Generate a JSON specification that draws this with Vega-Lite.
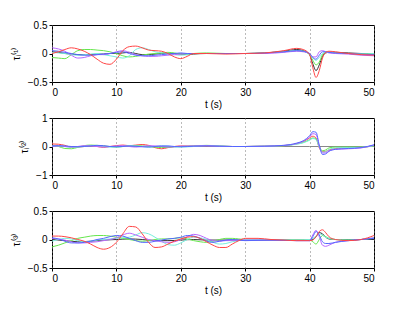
{
"$schema":"https://vega.github.io/schema/vega-lite/v6.json",
"padding":{"left":10,"top":19,"right":5,"bottom":5},
"background":"white",
"datasets":{"d":[
{"p":1,"s":"k","t":0,"v":0.03},{"p":1,"s":"k","t":1,"v":0.02},{"p":1,"s":"k","t":2,"v":0},{"p":1,"s":"k","t":3,"v":-0.01},{"p":1,"s":"k","t":4,"v":-0.02},{"p":1,"s":"k","t":5,"v":-0.02},{"p":1,"s":"k","t":6,"v":-0.02},{"p":1,"s":"k","t":7,"v":-0.01},{"p":1,"s":"k","t":8,"v":-0.01},{"p":1,"s":"k","t":9,"v":0},{"p":1,"s":"k","t":10,"v":0},{"p":1,"s":"k","t":11,"v":0.01},{"p":1,"s":"k","t":12,"v":0.02},{"p":1,"s":"k","t":13,"v":0},{"p":1,"s":"k","t":14,"v":-0.02},{"p":1,"s":"k","t":15,"v":-0.02},{"p":1,"s":"k","t":16,"v":-0.01},{"p":1,"s":"k","t":17,"v":0},{"p":1,"s":"k","t":18,"v":0},{"p":1,"s":"k","t":19,"v":0},{"p":1,"s":"k","t":20,"v":-0.01},{"p":1,"s":"k","t":21,"v":-0.02},{"p":1,"s":"k","t":22,"v":-0.01},{"p":1,"s":"k","t":24,"v":0},{"p":1,"s":"k","t":27,"v":0},{"p":1,"s":"k","t":30,"v":0},{"p":1,"s":"k","t":33,"v":0.01},{"p":1,"s":"k","t":36,"v":0.04},{"p":1,"s":"k","t":38,"v":0.07},{"p":1,"s":"k","t":39,"v":0.05},{"p":1,"s":"k","t":40,"v":-0.02},{"p":1,"s":"k","t":40.5,"v":-0.18},{"p":1,"s":"k","t":41,"v":-0.3},{"p":1,"s":"k","t":41.5,"v":-0.2},{"p":1,"s":"k","t":42,"v":-0.05},{"p":1,"s":"k","t":42.5,"v":0.01},{"p":1,"s":"k","t":43,"v":0.02},{"p":1,"s":"k","t":44,"v":0.02},{"p":1,"s":"k","t":46,"v":0.01},{"p":1,"s":"k","t":48,"v":0},{"p":1,"s":"k","t":50,"v":-0.01},
{"p":1,"s":"g","t":0,"v":-0.07},{"p":1,"s":"g","t":1,"v":-0.08},{"p":1,"s":"g","t":2,"v":-0.09},{"p":1,"s":"g","t":3,"v":-0.02},{"p":1,"s":"g","t":4,"v":0.05},{"p":1,"s":"g","t":5,"v":0.07},{"p":1,"s":"g","t":6,"v":0.07},{"p":1,"s":"g","t":7,"v":0.06},{"p":1,"s":"g","t":8,"v":0.05},{"p":1,"s":"g","t":9,"v":0.03},{"p":1,"s":"g","t":10,"v":0},{"p":1,"s":"g","t":11,"v":-0.04},{"p":1,"s":"g","t":12,"v":-0.06},{"p":1,"s":"g","t":13,"v":-0.05},{"p":1,"s":"g","t":14,"v":-0.03},{"p":1,"s":"g","t":15,"v":-0.01},{"p":1,"s":"g","t":16,"v":0},{"p":1,"s":"g","t":17,"v":0.01},{"p":1,"s":"g","t":18,"v":0.02},{"p":1,"s":"g","t":19,"v":0.01},{"p":1,"s":"g","t":20,"v":-0.01},{"p":1,"s":"g","t":21,"v":-0.01},{"p":1,"s":"g","t":22,"v":0},{"p":1,"s":"g","t":24,"v":0.01},{"p":1,"s":"g","t":27,"v":0},{"p":1,"s":"g","t":30,"v":0},{"p":1,"s":"g","t":33,"v":0.01},{"p":1,"s":"g","t":36,"v":0.03},{"p":1,"s":"g","t":38,"v":0.05},{"p":1,"s":"g","t":39,"v":0.04},{"p":1,"s":"g","t":40,"v":-0.02},{"p":1,"s":"g","t":40.5,"v":-0.12},{"p":1,"s":"g","t":41,"v":-0.2},{"p":1,"s":"g","t":41.5,"v":-0.15},{"p":1,"s":"g","t":42,"v":-0.02},{"p":1,"s":"g","t":42.5,"v":0.02},{"p":1,"s":"g","t":43,"v":0.02},{"p":1,"s":"g","t":44,"v":0.01},{"p":1,"s":"g","t":46,"v":0},{"p":1,"s":"g","t":48,"v":0},{"p":1,"s":"g","t":50,"v":0},
{"p":1,"s":"c","t":0,"v":0.02},{"p":1,"s":"c","t":1,"v":0.01},{"p":1,"s":"c","t":2,"v":0},{"p":1,"s":"c","t":3,"v":-0.02},{"p":1,"s":"c","t":4,"v":-0.03},{"p":1,"s":"c","t":5,"v":-0.02},{"p":1,"s":"c","t":6,"v":-0.01},{"p":1,"s":"c","t":7,"v":0},{"p":1,"s":"c","t":8,"v":-0.02},{"p":1,"s":"c","t":9,"v":-0.04},{"p":1,"s":"c","t":10,"v":-0.06},{"p":1,"s":"c","t":11,"v":-0.08},{"p":1,"s":"c","t":12,"v":-0.04},{"p":1,"s":"c","t":13,"v":0.07},{"p":1,"s":"c","t":14,"v":0.1},{"p":1,"s":"c","t":15,"v":0.07},{"p":1,"s":"c","t":16,"v":0.03},{"p":1,"s":"c","t":17,"v":0.01},{"p":1,"s":"c","t":18,"v":0},{"p":1,"s":"c","t":19,"v":-0.02},{"p":1,"s":"c","t":20,"v":-0.03},{"p":1,"s":"c","t":21,"v":-0.02},{"p":1,"s":"c","t":22,"v":0},{"p":1,"s":"c","t":24,"v":0},{"p":1,"s":"c","t":27,"v":0},{"p":1,"s":"c","t":30,"v":0},{"p":1,"s":"c","t":33,"v":0.01},{"p":1,"s":"c","t":36,"v":0.03},{"p":1,"s":"c","t":38,"v":0.05},{"p":1,"s":"c","t":39,"v":0.04},{"p":1,"s":"c","t":40,"v":-0.02},{"p":1,"s":"c","t":40.5,"v":-0.08},{"p":1,"s":"c","t":41,"v":-0.12},{"p":1,"s":"c","t":41.5,"v":-0.07},{"p":1,"s":"c","t":42,"v":0},{"p":1,"s":"c","t":42.5,"v":0.02},{"p":1,"s":"c","t":43,"v":0.02},{"p":1,"s":"c","t":44,"v":0.01},{"p":1,"s":"c","t":46,"v":0},{"p":1,"s":"c","t":48,"v":-0.01},{"p":1,"s":"c","t":50,"v":0},
{"p":1,"s":"m","t":0,"v":0.1},{"p":1,"s":"m","t":1,"v":0.08},{"p":1,"s":"m","t":2,"v":0.04},{"p":1,"s":"m","t":3,"v":-0.03},{"p":1,"s":"m","t":4,"v":-0.08},{"p":1,"s":"m","t":5,"v":-0.07},{"p":1,"s":"m","t":6,"v":-0.04},{"p":1,"s":"m","t":7,"v":-0.02},{"p":1,"s":"m","t":8,"v":-0.02},{"p":1,"s":"m","t":9,"v":0},{"p":1,"s":"m","t":10,"v":0.03},{"p":1,"s":"m","t":11,"v":0.05},{"p":1,"s":"m","t":12,"v":0.02},{"p":1,"s":"m","t":13,"v":-0.02},{"p":1,"s":"m","t":14,"v":-0.04},{"p":1,"s":"m","t":15,"v":-0.05},{"p":1,"s":"m","t":16,"v":-0.05},{"p":1,"s":"m","t":17,"v":-0.04},{"p":1,"s":"m","t":18,"v":-0.03},{"p":1,"s":"m","t":19,"v":-0.02},{"p":1,"s":"m","t":20,"v":-0.01},{"p":1,"s":"m","t":21,"v":0},{"p":1,"s":"m","t":22,"v":0},{"p":1,"s":"m","t":24,"v":0},{"p":1,"s":"m","t":27,"v":0},{"p":1,"s":"m","t":30,"v":0},{"p":1,"s":"m","t":33,"v":0},{"p":1,"s":"m","t":36,"v":0.02},{"p":1,"s":"m","t":38,"v":0.04},{"p":1,"s":"m","t":39,"v":0.03},{"p":1,"s":"m","t":40,"v":0},{"p":1,"s":"m","t":40.5,"v":-0.06},{"p":1,"s":"m","t":41,"v":-0.06},{"p":1,"s":"m","t":41.5,"v":0.03},{"p":1,"s":"m","t":42,"v":0.05},{"p":1,"s":"m","t":42.5,"v":0.03},{"p":1,"s":"m","t":43,"v":0.01},{"p":1,"s":"m","t":44,"v":0},{"p":1,"s":"m","t":46,"v":-0.01},{"p":1,"s":"m","t":48,"v":-0.03},{"p":1,"s":"m","t":50,"v":-0.04},
{"p":1,"s":"b","t":0,"v":0.05},{"p":1,"s":"b","t":1,"v":0.04},{"p":1,"s":"b","t":2,"v":0.02},{"p":1,"s":"b","t":3,"v":0},{"p":1,"s":"b","t":4,"v":-0.02},{"p":1,"s":"b","t":5,"v":-0.03},{"p":1,"s":"b","t":6,"v":-0.03},{"p":1,"s":"b","t":7,"v":-0.02},{"p":1,"s":"b","t":8,"v":-0.01},{"p":1,"s":"b","t":9,"v":0},{"p":1,"s":"b","t":10,"v":0.02},{"p":1,"s":"b","t":11,"v":0.03},{"p":1,"s":"b","t":12,"v":0},{"p":1,"s":"b","t":13,"v":-0.03},{"p":1,"s":"b","t":14,"v":-0.04},{"p":1,"s":"b","t":15,"v":-0.04},{"p":1,"s":"b","t":16,"v":-0.03},{"p":1,"s":"b","t":17,"v":-0.02},{"p":1,"s":"b","t":18,"v":-0.01},{"p":1,"s":"b","t":19,"v":0},{"p":1,"s":"b","t":20,"v":0.01},{"p":1,"s":"b","t":21,"v":0},{"p":1,"s":"b","t":22,"v":0},{"p":1,"s":"b","t":24,"v":0},{"p":1,"s":"b","t":27,"v":0},{"p":1,"s":"b","t":30,"v":0},{"p":1,"s":"b","t":33,"v":0.01},{"p":1,"s":"b","t":36,"v":0.03},{"p":1,"s":"b","t":38,"v":0.05},{"p":1,"s":"b","t":39,"v":0.04},{"p":1,"s":"b","t":40,"v":0},{"p":1,"s":"b","t":40.5,"v":-0.07},{"p":1,"s":"b","t":41,"v":-0.1},{"p":1,"s":"b","t":41.5,"v":-0.03},{"p":1,"s":"b","t":42,"v":0.03},{"p":1,"s":"b","t":42.5,"v":0.03},{"p":1,"s":"b","t":43,"v":0.02},{"p":1,"s":"b","t":44,"v":0.01},{"p":1,"s":"b","t":46,"v":0},{"p":1,"s":"b","t":48,"v":-0.01},{"p":1,"s":"b","t":50,"v":-0.02},
{"p":1,"s":"r","t":0,"v":0},{"p":1,"s":"r","t":1,"v":0.03},{"p":1,"s":"r","t":2,"v":0.07},{"p":1,"s":"r","t":3,"v":0.1},{"p":1,"s":"r","t":4,"v":0.08},{"p":1,"s":"r","t":5,"v":0.04},{"p":1,"s":"r","t":6,"v":-0.02},{"p":1,"s":"r","t":7,"v":-0.1},{"p":1,"s":"r","t":8,"v":-0.17},{"p":1,"s":"r","t":9,"v":-0.19},{"p":1,"s":"r","t":10,"v":-0.1},{"p":1,"s":"r","t":11,"v":0.05},{"p":1,"s":"r","t":12,"v":0.12},{"p":1,"s":"r","t":13,"v":0.13},{"p":1,"s":"r","t":14,"v":0.1},{"p":1,"s":"r","t":15,"v":0.06},{"p":1,"s":"r","t":16,"v":0.05},{"p":1,"s":"r","t":17,"v":0.04},{"p":1,"s":"r","t":18,"v":0},{"p":1,"s":"r","t":19,"v":-0.06},{"p":1,"s":"r","t":20,"v":-0.09},{"p":1,"s":"r","t":21,"v":-0.05},{"p":1,"s":"r","t":22,"v":0},{"p":1,"s":"r","t":24,"v":0},{"p":1,"s":"r","t":27,"v":-0.01},{"p":1,"s":"r","t":30,"v":0},{"p":1,"s":"r","t":33,"v":0.01},{"p":1,"s":"r","t":36,"v":0.05},{"p":1,"s":"r","t":38,"v":0.09},{"p":1,"s":"r","t":39,"v":0.07},{"p":1,"s":"r","t":40,"v":-0.02},{"p":1,"s":"r","t":40.5,"v":-0.25},{"p":1,"s":"r","t":41,"v":-0.42},{"p":1,"s":"r","t":41.5,"v":-0.3},{"p":1,"s":"r","t":42,"v":-0.08},{"p":1,"s":"r","t":42.5,"v":0.02},{"p":1,"s":"r","t":43,"v":0.04},{"p":1,"s":"r","t":44,"v":0.03},{"p":1,"s":"r","t":46,"v":0},{"p":1,"s":"r","t":48,"v":-0.02},{"p":1,"s":"r","t":50,"v":-0.03},
{"p":2,"s":"k","t":0,"v":0},{"p":2,"s":"k","t":10,"v":0},{"p":2,"s":"k","t":20,"v":0},{"p":2,"s":"k","t":30,"v":0},{"p":2,"s":"k","t":40,"v":0},{"p":2,"s":"k","t":50,"v":0},
{"p":2,"s":"r","t":0,"v":0.09},{"p":2,"s":"r","t":1,"v":0.08},{"p":2,"s":"r","t":2,"v":0.04},{"p":2,"s":"r","t":3,"v":-0.02},{"p":2,"s":"r","t":4,"v":-0.02},{"p":2,"s":"r","t":5,"v":0},{"p":2,"s":"r","t":6,"v":0.02},{"p":2,"s":"r","t":7,"v":0},{"p":2,"s":"r","t":8,"v":-0.03},{"p":2,"s":"r","t":9,"v":0},{"p":2,"s":"r","t":10,"v":0.03},{"p":2,"s":"r","t":11,"v":0.05},{"p":2,"s":"r","t":12,"v":0.03},{"p":2,"s":"r","t":13,"v":0.05},{"p":2,"s":"r","t":14,"v":0.07},{"p":2,"s":"r","t":15,"v":0.04},{"p":2,"s":"r","t":16,"v":-0.04},{"p":2,"s":"r","t":17,"v":-0.08},{"p":2,"s":"r","t":18,"v":-0.04},{"p":2,"s":"r","t":19,"v":0},{"p":2,"s":"r","t":20,"v":0.02},{"p":2,"s":"r","t":22,"v":0.01},{"p":2,"s":"r","t":24,"v":0.02},{"p":2,"s":"r","t":26,"v":0.01},{"p":2,"s":"r","t":28,"v":0},{"p":2,"s":"r","t":30,"v":0},{"p":2,"s":"r","t":33,"v":0.01},{"p":2,"s":"r","t":36,"v":0.03},{"p":2,"s":"r","t":38,"v":0.1},{"p":2,"s":"r","t":39,"v":0.17},{"p":2,"s":"r","t":40,"v":0.3},{"p":2,"s":"r","t":40.5,"v":0.36},{"p":2,"s":"r","t":41,"v":0.3},{"p":2,"s":"r","t":41.5,"v":-0.05},{"p":2,"s":"r","t":42,"v":-0.17},{"p":2,"s":"r","t":42.5,"v":-0.17},{"p":2,"s":"r","t":43,"v":-0.12},{"p":2,"s":"r","t":44,"v":-0.07},{"p":2,"s":"r","t":45,"v":-0.05},{"p":2,"s":"r","t":46,"v":-0.04},{"p":2,"s":"r","t":48,"v":-0.03},{"p":2,"s":"r","t":50,"v":0.03},
{"p":2,"s":"g","t":0,"v":0.03},{"p":2,"s":"g","t":1,"v":0},{"p":2,"s":"g","t":2,"v":-0.07},{"p":2,"s":"g","t":3,"v":-0.08},{"p":2,"s":"g","t":4,"v":-0.03},{"p":2,"s":"g","t":5,"v":0.03},{"p":2,"s":"g","t":6,"v":0.05},{"p":2,"s":"g","t":7,"v":0.04},{"p":2,"s":"g","t":8,"v":0.02},{"p":2,"s":"g","t":9,"v":0},{"p":2,"s":"g","t":10,"v":-0.02},{"p":2,"s":"g","t":11,"v":0},{"p":2,"s":"g","t":12,"v":0.02},{"p":2,"s":"g","t":13,"v":0.03},{"p":2,"s":"g","t":14,"v":0.02},{"p":2,"s":"g","t":15,"v":0},{"p":2,"s":"g","t":16,"v":-0.02},{"p":2,"s":"g","t":17,"v":-0.04},{"p":2,"s":"g","t":18,"v":-0.03},{"p":2,"s":"g","t":19,"v":-0.01},{"p":2,"s":"g","t":20,"v":0},{"p":2,"s":"g","t":22,"v":0.02},{"p":2,"s":"g","t":24,"v":0.04},{"p":2,"s":"g","t":26,"v":0.02},{"p":2,"s":"g","t":28,"v":0},{"p":2,"s":"g","t":30,"v":0},{"p":2,"s":"g","t":33,"v":0.01},{"p":2,"s":"g","t":36,"v":0.03},{"p":2,"s":"g","t":38,"v":0.09},{"p":2,"s":"g","t":39,"v":0.14},{"p":2,"s":"g","t":40,"v":0.24},{"p":2,"s":"g","t":40.5,"v":0.3},{"p":2,"s":"g","t":41,"v":0.27},{"p":2,"s":"g","t":41.5,"v":0},{"p":2,"s":"g","t":42,"v":-0.15},{"p":2,"s":"g","t":42.5,"v":-0.12},{"p":2,"s":"g","t":43,"v":-0.05},{"p":2,"s":"g","t":44,"v":-0.02},{"p":2,"s":"g","t":45,"v":-0.02},{"p":2,"s":"g","t":46,"v":-0.02},{"p":2,"s":"g","t":48,"v":-0.02},{"p":2,"s":"g","t":50,"v":0.02},
{"p":2,"s":"c","t":0,"v":0},{"p":2,"s":"c","t":1,"v":0.02},{"p":2,"s":"c","t":2,"v":0},{"p":2,"s":"c","t":3,"v":-0.03},{"p":2,"s":"c","t":4,"v":-0.02},{"p":2,"s":"c","t":5,"v":0},{"p":2,"s":"c","t":6,"v":0.03},{"p":2,"s":"c","t":7,"v":0.02},{"p":2,"s":"c","t":8,"v":0},{"p":2,"s":"c","t":9,"v":-0.02},{"p":2,"s":"c","t":10,"v":-0.02},{"p":2,"s":"c","t":11,"v":0},{"p":2,"s":"c","t":12,"v":0.03},{"p":2,"s":"c","t":13,"v":0.02},{"p":2,"s":"c","t":14,"v":0},{"p":2,"s":"c","t":15,"v":-0.02},{"p":2,"s":"c","t":16,"v":0},{"p":2,"s":"c","t":17,"v":0.02},{"p":2,"s":"c","t":18,"v":0.01},{"p":2,"s":"c","t":19,"v":-0.01},{"p":2,"s":"c","t":20,"v":-0.02},{"p":2,"s":"c","t":22,"v":0},{"p":2,"s":"c","t":24,"v":0.03},{"p":2,"s":"c","t":26,"v":0.02},{"p":2,"s":"c","t":28,"v":0},{"p":2,"s":"c","t":30,"v":0},{"p":2,"s":"c","t":33,"v":0.01},{"p":2,"s":"c","t":36,"v":0.03},{"p":2,"s":"c","t":38,"v":0.08},{"p":2,"s":"c","t":39,"v":0.13},{"p":2,"s":"c","t":40,"v":0.22},{"p":2,"s":"c","t":40.5,"v":0.28},{"p":2,"s":"c","t":41,"v":0.25},{"p":2,"s":"c","t":41.5,"v":-0.02},{"p":2,"s":"c","t":42,"v":-0.2},{"p":2,"s":"c","t":42.5,"v":-0.18},{"p":2,"s":"c","t":43,"v":-0.1},{"p":2,"s":"c","t":44,"v":-0.05},{"p":2,"s":"c","t":45,"v":-0.04},{"p":2,"s":"c","t":46,"v":-0.04},{"p":2,"s":"c","t":48,"v":-0.03},{"p":2,"s":"c","t":50,"v":0.03},
{"p":2,"s":"m","t":0,"v":0},{"p":2,"s":"m","t":1,"v":0.02},{"p":2,"s":"m","t":2,"v":0},{"p":2,"s":"m","t":3,"v":-0.02},{"p":2,"s":"m","t":4,"v":0},{"p":2,"s":"m","t":5,"v":0.03},{"p":2,"s":"m","t":6,"v":0.02},{"p":2,"s":"m","t":7,"v":0},{"p":2,"s":"m","t":8,"v":-0.02},{"p":2,"s":"m","t":9,"v":0},{"p":2,"s":"m","t":10,"v":0.02},{"p":2,"s":"m","t":11,"v":0.03},{"p":2,"s":"m","t":12,"v":0},{"p":2,"s":"m","t":13,"v":-0.02},{"p":2,"s":"m","t":14,"v":0},{"p":2,"s":"m","t":15,"v":0.03},{"p":2,"s":"m","t":16,"v":0.02},{"p":2,"s":"m","t":17,"v":0},{"p":2,"s":"m","t":18,"v":-0.02},{"p":2,"s":"m","t":19,"v":-0.01},{"p":2,"s":"m","t":20,"v":0.01},{"p":2,"s":"m","t":22,"v":0.02},{"p":2,"s":"m","t":24,"v":0.03},{"p":2,"s":"m","t":26,"v":0.01},{"p":2,"s":"m","t":28,"v":0},{"p":2,"s":"m","t":30,"v":0},{"p":2,"s":"m","t":33,"v":0.01},{"p":2,"s":"m","t":36,"v":0.04},{"p":2,"s":"m","t":38,"v":0.1},{"p":2,"s":"m","t":39,"v":0.18},{"p":2,"s":"m","t":40,"v":0.33},{"p":2,"s":"m","t":40.5,"v":0.45},{"p":2,"s":"m","t":41,"v":0.42},{"p":2,"s":"m","t":41.5,"v":0.02},{"p":2,"s":"m","t":42,"v":-0.23},{"p":2,"s":"m","t":42.5,"v":-0.22},{"p":2,"s":"m","t":43,"v":-0.15},{"p":2,"s":"m","t":44,"v":-0.1},{"p":2,"s":"m","t":45,"v":-0.09},{"p":2,"s":"m","t":46,"v":-0.08},{"p":2,"s":"m","t":48,"v":-0.05},{"p":2,"s":"m","t":50,"v":0.05},
{"p":2,"s":"b","t":0,"v":0.02},{"p":2,"s":"b","t":1,"v":0.03},{"p":2,"s":"b","t":2,"v":0.02},{"p":2,"s":"b","t":3,"v":0},{"p":2,"s":"b","t":4,"v":-0.01},{"p":2,"s":"b","t":5,"v":0},{"p":2,"s":"b","t":6,"v":0.02},{"p":2,"s":"b","t":7,"v":0.04},{"p":2,"s":"b","t":8,"v":0.03},{"p":2,"s":"b","t":9,"v":0},{"p":2,"s":"b","t":10,"v":-0.01},{"p":2,"s":"b","t":11,"v":0},{"p":2,"s":"b","t":12,"v":0.02},{"p":2,"s":"b","t":13,"v":0.01},{"p":2,"s":"b","t":14,"v":-0.01},{"p":2,"s":"b","t":15,"v":-0.02},{"p":2,"s":"b","t":16,"v":0},{"p":2,"s":"b","t":17,"v":0.02},{"p":2,"s":"b","t":18,"v":0.02},{"p":2,"s":"b","t":19,"v":0},{"p":2,"s":"b","t":20,"v":-0.01},{"p":2,"s":"b","t":22,"v":0.01},{"p":2,"s":"b","t":24,"v":0.02},{"p":2,"s":"b","t":26,"v":0.01},{"p":2,"s":"b","t":28,"v":0},{"p":2,"s":"b","t":30,"v":0},{"p":2,"s":"b","t":33,"v":0.01},{"p":2,"s":"b","t":36,"v":0.04},{"p":2,"s":"b","t":38,"v":0.12},{"p":2,"s":"b","t":39,"v":0.2},{"p":2,"s":"b","t":40,"v":0.38},{"p":2,"s":"b","t":40.5,"v":0.52},{"p":2,"s":"b","t":41,"v":0.5},{"p":2,"s":"b","t":41.5,"v":0.05},{"p":2,"s":"b","t":42,"v":-0.28},{"p":2,"s":"b","t":42.5,"v":-0.26},{"p":2,"s":"b","t":43,"v":-0.17},{"p":2,"s":"b","t":44,"v":-0.1},{"p":2,"s":"b","t":45,"v":-0.08},{"p":2,"s":"b","t":46,"v":-0.07},{"p":2,"s":"b","t":48,"v":-0.04},{"p":2,"s":"b","t":50,"v":0.06},
{"p":3,"s":"k","t":0,"v":0},{"p":3,"s":"k","t":2,"v":-0.02},{"p":3,"s":"k","t":4,"v":-0.04},{"p":3,"s":"k","t":6,"v":-0.03},{"p":3,"s":"k","t":8,"v":-0.01},{"p":3,"s":"k","t":10,"v":0},{"p":3,"s":"k","t":12,"v":0.01},{"p":3,"s":"k","t":14,"v":0},{"p":3,"s":"k","t":16,"v":-0.02},{"p":3,"s":"k","t":18,"v":-0.02},{"p":3,"s":"k","t":20,"v":-0.01},{"p":3,"s":"k","t":22,"v":0},{"p":3,"s":"k","t":24,"v":-0.01},{"p":3,"s":"k","t":26,"v":-0.01},{"p":3,"s":"k","t":28,"v":-0.01},{"p":3,"s":"k","t":30,"v":-0.01},{"p":3,"s":"k","t":34,"v":-0.01},{"p":3,"s":"k","t":38,"v":-0.01},{"p":3,"s":"k","t":40,"v":-0.01},{"p":3,"s":"k","t":40.5,"v":0},{"p":3,"s":"k","t":41,"v":0.05},{"p":3,"s":"k","t":41.5,"v":0.12},{"p":3,"s":"k","t":42,"v":0.1},{"p":3,"s":"k","t":42.5,"v":0.04},{"p":3,"s":"k","t":43,"v":0.01},{"p":3,"s":"k","t":44,"v":0},{"p":3,"s":"k","t":46,"v":0},{"p":3,"s":"k","t":48,"v":0},{"p":3,"s":"k","t":50,"v":0},
{"p":3,"s":"g","t":0,"v":-0.13},{"p":3,"s":"g","t":1,"v":-0.1},{"p":3,"s":"g","t":2,"v":-0.06},{"p":3,"s":"g","t":3,"v":-0.02},{"p":3,"s":"g","t":4,"v":0.02},{"p":3,"s":"g","t":5,"v":0.04},{"p":3,"s":"g","t":6,"v":0.06},{"p":3,"s":"g","t":7,"v":0.07},{"p":3,"s":"g","t":8,"v":0.07},{"p":3,"s":"g","t":9,"v":0.06},{"p":3,"s":"g","t":10,"v":0.04},{"p":3,"s":"g","t":11,"v":0.02},{"p":3,"s":"g","t":12,"v":0},{"p":3,"s":"g","t":13,"v":-0.02},{"p":3,"s":"g","t":14,"v":-0.03},{"p":3,"s":"g","t":15,"v":-0.02},{"p":3,"s":"g","t":16,"v":0},{"p":3,"s":"g","t":17,"v":0.01},{"p":3,"s":"g","t":18,"v":0.01},{"p":3,"s":"g","t":19,"v":0.02},{"p":3,"s":"g","t":20,"v":0.03},{"p":3,"s":"g","t":21,"v":0.01},{"p":3,"s":"g","t":22,"v":-0.02},{"p":3,"s":"g","t":23,"v":-0.04},{"p":3,"s":"g","t":24,"v":-0.05},{"p":3,"s":"g","t":25,"v":-0.03},{"p":3,"s":"g","t":26,"v":0},{"p":3,"s":"g","t":27,"v":0.02},{"p":3,"s":"g","t":28,"v":0.02},{"p":3,"s":"g","t":29,"v":0.01},{"p":3,"s":"g","t":30,"v":0},{"p":3,"s":"g","t":34,"v":0},{"p":3,"s":"g","t":38,"v":-0.01},{"p":3,"s":"g","t":40,"v":-0.01},{"p":3,"s":"g","t":40.5,"v":-0.04},{"p":3,"s":"g","t":41,"v":-0.08},{"p":3,"s":"g","t":41.5,"v":0},{"p":3,"s":"g","t":42,"v":0.07},{"p":3,"s":"g","t":42.5,"v":0.05},{"p":3,"s":"g","t":43,"v":0.02},{"p":3,"s":"g","t":44,"v":0},{"p":3,"s":"g","t":46,"v":-0.01},{"p":3,"s":"g","t":48,"v":0},{"p":3,"s":"g","t":50,"v":0.02},
{"p":3,"s":"c","t":0,"v":-0.03},{"p":3,"s":"c","t":1,"v":0},{"p":3,"s":"c","t":2,"v":0.02},{"p":3,"s":"c","t":3,"v":0.01},{"p":3,"s":"c","t":4,"v":-0.02},{"p":3,"s":"c","t":5,"v":-0.04},{"p":3,"s":"c","t":6,"v":-0.03},{"p":3,"s":"c","t":7,"v":-0.01},{"p":3,"s":"c","t":8,"v":0},{"p":3,"s":"c","t":9,"v":0.01},{"p":3,"s":"c","t":10,"v":0.02},{"p":3,"s":"c","t":11,"v":0.03},{"p":3,"s":"c","t":12,"v":0.04},{"p":3,"s":"c","t":13,"v":0.08},{"p":3,"s":"c","t":14,"v":0.12},{"p":3,"s":"c","t":15,"v":0.1},{"p":3,"s":"c","t":16,"v":0.04},{"p":3,"s":"c","t":17,"v":-0.03},{"p":3,"s":"c","t":18,"v":-0.09},{"p":3,"s":"c","t":19,"v":-0.1},{"p":3,"s":"c","t":20,"v":-0.06},{"p":3,"s":"c","t":21,"v":0},{"p":3,"s":"c","t":22,"v":0.04},{"p":3,"s":"c","t":23,"v":0.03},{"p":3,"s":"c","t":24,"v":0},{"p":3,"s":"c","t":25,"v":-0.05},{"p":3,"s":"c","t":26,"v":-0.08},{"p":3,"s":"c","t":27,"v":-0.07},{"p":3,"s":"c","t":28,"v":-0.04},{"p":3,"s":"c","t":29,"v":-0.02},{"p":3,"s":"c","t":30,"v":0},{"p":3,"s":"c","t":34,"v":0},{"p":3,"s":"c","t":38,"v":-0.01},{"p":3,"s":"c","t":40,"v":0},{"p":3,"s":"c","t":40.5,"v":0.02},{"p":3,"s":"c","t":41,"v":0.06},{"p":3,"s":"c","t":41.5,"v":0.1},{"p":3,"s":"c","t":42,"v":0.08},{"p":3,"s":"c","t":42.5,"v":0.04},{"p":3,"s":"c","t":43,"v":0.02},{"p":3,"s":"c","t":44,"v":0},{"p":3,"s":"c","t":46,"v":-0.01},{"p":3,"s":"c","t":48,"v":0},{"p":3,"s":"c","t":50,"v":0.03},
{"p":3,"s":"m","t":0,"v":0.02},{"p":3,"s":"m","t":1,"v":0.01},{"p":3,"s":"m","t":2,"v":-0.01},{"p":3,"s":"m","t":3,"v":-0.04},{"p":3,"s":"m","t":4,"v":-0.06},{"p":3,"s":"m","t":5,"v":-0.06},{"p":3,"s":"m","t":6,"v":-0.05},{"p":3,"s":"m","t":7,"v":-0.04},{"p":3,"s":"m","t":8,"v":-0.02},{"p":3,"s":"m","t":9,"v":0},{"p":3,"s":"m","t":10,"v":0.03},{"p":3,"s":"m","t":11,"v":0.08},{"p":3,"s":"m","t":12,"v":0.11},{"p":3,"s":"m","t":13,"v":0.08},{"p":3,"s":"m","t":14,"v":0.04},{"p":3,"s":"m","t":15,"v":0},{"p":3,"s":"m","t":16,"v":-0.02},{"p":3,"s":"m","t":17,"v":-0.04},{"p":3,"s":"m","t":18,"v":-0.05},{"p":3,"s":"m","t":19,"v":-0.04},{"p":3,"s":"m","t":20,"v":0},{"p":3,"s":"m","t":21,"v":0.05},{"p":3,"s":"m","t":22,"v":0.09},{"p":3,"s":"m","t":23,"v":0.07},{"p":3,"s":"m","t":24,"v":0.02},{"p":3,"s":"m","t":25,"v":-0.02},{"p":3,"s":"m","t":26,"v":-0.03},{"p":3,"s":"m","t":27,"v":-0.02},{"p":3,"s":"m","t":28,"v":-0.02},{"p":3,"s":"m","t":29,"v":-0.01},{"p":3,"s":"m","t":30,"v":-0.01},{"p":3,"s":"m","t":34,"v":-0.01},{"p":3,"s":"m","t":38,"v":-0.02},{"p":3,"s":"m","t":40,"v":-0.02},{"p":3,"s":"m","t":40.5,"v":0.08},{"p":3,"s":"m","t":41,"v":0.16},{"p":3,"s":"m","t":41.5,"v":0.05},{"p":3,"s":"m","t":42,"v":-0.1},{"p":3,"s":"m","t":42.5,"v":-0.12},{"p":3,"s":"m","t":43,"v":-0.1},{"p":3,"s":"m","t":44,"v":-0.05},{"p":3,"s":"m","t":46,"v":-0.02},{"p":3,"s":"m","t":48,"v":0},{"p":3,"s":"m","t":50,"v":0.03},
{"p":3,"s":"b","t":0,"v":0.03},{"p":3,"s":"b","t":1,"v":0.01},{"p":3,"s":"b","t":2,"v":-0.03},{"p":3,"s":"b","t":3,"v":-0.06},{"p":3,"s":"b","t":4,"v":-0.06},{"p":3,"s":"b","t":5,"v":-0.05},{"p":3,"s":"b","t":6,"v":-0.03},{"p":3,"s":"b","t":7,"v":0},{"p":3,"s":"b","t":8,"v":0.02},{"p":3,"s":"b","t":9,"v":0.05},{"p":3,"s":"b","t":10,"v":0.07},{"p":3,"s":"b","t":11,"v":0.06},{"p":3,"s":"b","t":12,"v":0.02},{"p":3,"s":"b","t":13,"v":-0.02},{"p":3,"s":"b","t":14,"v":-0.05},{"p":3,"s":"b","t":15,"v":-0.05},{"p":3,"s":"b","t":16,"v":-0.03},{"p":3,"s":"b","t":17,"v":-0.01},{"p":3,"s":"b","t":18,"v":0.01},{"p":3,"s":"b","t":19,"v":0.02},{"p":3,"s":"b","t":20,"v":0.04},{"p":3,"s":"b","t":21,"v":0.07},{"p":3,"s":"b","t":22,"v":0.06},{"p":3,"s":"b","t":23,"v":0.02},{"p":3,"s":"b","t":24,"v":-0.03},{"p":3,"s":"b","t":25,"v":-0.05},{"p":3,"s":"b","t":26,"v":-0.03},{"p":3,"s":"b","t":27,"v":-0.01},{"p":3,"s":"b","t":28,"v":0},{"p":3,"s":"b","t":29,"v":-0.01},{"p":3,"s":"b","t":30,"v":-0.02},{"p":3,"s":"b","t":34,"v":-0.01},{"p":3,"s":"b","t":38,"v":-0.02},{"p":3,"s":"b","t":40,"v":-0.02},{"p":3,"s":"b","t":40.5,"v":0.05},{"p":3,"s":"b","t":41,"v":0.14},{"p":3,"s":"b","t":41.5,"v":0.08},{"p":3,"s":"b","t":42,"v":-0.04},{"p":3,"s":"b","t":42.5,"v":-0.07},{"p":3,"s":"b","t":43,"v":-0.07},{"p":3,"s":"b","t":44,"v":-0.05},{"p":3,"s":"b","t":46,"v":-0.02},{"p":3,"s":"b","t":48,"v":0},{"p":3,"s":"b","t":50,"v":0.02},
{"p":3,"s":"r","t":0,"v":0.06},{"p":3,"s":"r","t":1,"v":0.06},{"p":3,"s":"r","t":2,"v":0.05},{"p":3,"s":"r","t":3,"v":0.03},{"p":3,"s":"r","t":4,"v":0},{"p":3,"s":"r","t":5,"v":-0.03},{"p":3,"s":"r","t":6,"v":-0.08},{"p":3,"s":"r","t":7,"v":-0.14},{"p":3,"s":"r","t":8,"v":-0.17},{"p":3,"s":"r","t":9,"v":-0.14},{"p":3,"s":"r","t":10,"v":-0.05},{"p":3,"s":"r","t":11,"v":0.1},{"p":3,"s":"r","t":12,"v":0.23},{"p":3,"s":"r","t":13,"v":0.22},{"p":3,"s":"r","t":14,"v":0.1},{"p":3,"s":"r","t":15,"v":-0.05},{"p":3,"s":"r","t":16,"v":-0.14},{"p":3,"s":"r","t":17,"v":-0.13},{"p":3,"s":"r","t":18,"v":-0.08},{"p":3,"s":"r","t":19,"v":-0.03},{"p":3,"s":"r","t":20,"v":0.01},{"p":3,"s":"r","t":21,"v":0.04},{"p":3,"s":"r","t":22,"v":0.05},{"p":3,"s":"r","t":23,"v":0.02},{"p":3,"s":"r","t":24,"v":-0.04},{"p":3,"s":"r","t":25,"v":-0.1},{"p":3,"s":"r","t":26,"v":-0.14},{"p":3,"s":"r","t":27,"v":-0.14},{"p":3,"s":"r","t":28,"v":-0.08},{"p":3,"s":"r","t":29,"v":-0.02},{"p":3,"s":"r","t":30,"v":0.02},{"p":3,"s":"r","t":32,"v":0.02},{"p":3,"s":"r","t":34,"v":0},{"p":3,"s":"r","t":36,"v":-0.01},{"p":3,"s":"r","t":38,"v":-0.02},{"p":3,"s":"r","t":40,"v":-0.02},{"p":3,"s":"r","t":40.5,"v":-0.01},{"p":3,"s":"r","t":41,"v":0.05},{"p":3,"s":"r","t":41.5,"v":0.14},{"p":3,"s":"r","t":42,"v":0.17},{"p":3,"s":"r","t":42.5,"v":0.12},{"p":3,"s":"r","t":43,"v":0.05},{"p":3,"s":"r","t":44,"v":0},{"p":3,"s":"r","t":46,"v":-0.02},{"p":3,"s":"r","t":48,"v":0},{"p":3,"s":"r","t":50,"v":0.07}
]},
"data":{"name":"d"},
"bounds":"flush",
"spacing":36,
"vconcat":[
{"width":322,"height":57,"transform":[{"filter":"datum.p==1"}],
 "mark":{"type":"line","interpolate":"monotone","strokeWidth":1,"clip":true},
 "encoding":{
  "x":{"field":"t","type":"quantitative","scale":{"domain":[0,50],"nice":false},"axis":{"title":"t (s)","values":[0,10,20,30,40,50]}},
  "y":{"field":"v","type":"quantitative","scale":{"domain":[-0.5,0.5],"nice":false},"axis":{"title":"τᵢ⁽¹⁾","values":[-0.5,0,0.5],"format":"~g"}},
  "color":{"field":"s","type":"nominal","legend":null,"scale":{"domain":["k","g","c","m","b","r"],"range":["#333333","#66e64d","#77eedd","#b866ff","#5566ff","#ff4444"]}}
 }},
{"width":322,"height":57,"transform":[{"filter":"datum.p==2"}],
 "mark":{"type":"line","interpolate":"monotone","strokeWidth":1,"clip":true},
 "encoding":{
  "x":{"field":"t","type":"quantitative","scale":{"domain":[0,50],"nice":false},"axis":{"title":"t (s)","values":[0,10,20,30,40,50]}},
  "y":{"field":"v","type":"quantitative","scale":{"domain":[-1,1],"nice":false},"axis":{"title":"τᵢ⁽²⁾","values":[-1,0,1],"format":"~g"}},
  "color":{"field":"s","type":"nominal","legend":null,"scale":{"domain":["k","g","c","m","b","r"],"range":["#888888","#66e64d","#77eedd","#b866ff","#5566ff","#ff4444"]}}
 }},
{"width":322,"height":57,"transform":[{"filter":"datum.p==3"}],
 "mark":{"type":"line","interpolate":"monotone","strokeWidth":1,"clip":true},
 "encoding":{
  "x":{"field":"t","type":"quantitative","scale":{"domain":[0,50],"nice":false},"axis":{"title":"t (s)","values":[0,10,20,30,40,50]}},
  "y":{"field":"v","type":"quantitative","scale":{"domain":[-0.5,0.5],"nice":false},"axis":{"title":"τᵢ⁽³⁾","values":[-0.5,0,0.5],"format":"~g"}},
  "color":{"field":"s","type":"nominal","legend":null,"scale":{"domain":["k","g","c","m","b","r"],"range":["#333333","#66e64d","#77eedd","#b866ff","#5566ff","#ff4444"]}}
 }}
],
"resolve":{"scale":{"color":"independent"}},
"config":{
 "font":"Liberation Sans",
 "view":{"stroke":"#000000","strokeWidth":1},
 "axis":{"labelFont":"Liberation Sans","titleFont":"Liberation Sans","labelFontSize":10,"titleFontSize":10,"titleFontWeight":"normal","labelColor":"#000","titleColor":"#000","domain":false,"tickColor":"#000","tickSize":3,"labelPadding":2},
 "axisX":{"grid":true,"gridDash":[1,3],"gridColor":"#777","gridOpacity":1,"titlePadding":2},
 "axisY":{"grid":false,"titlePadding":6,"labelFlush":false}
}
}
